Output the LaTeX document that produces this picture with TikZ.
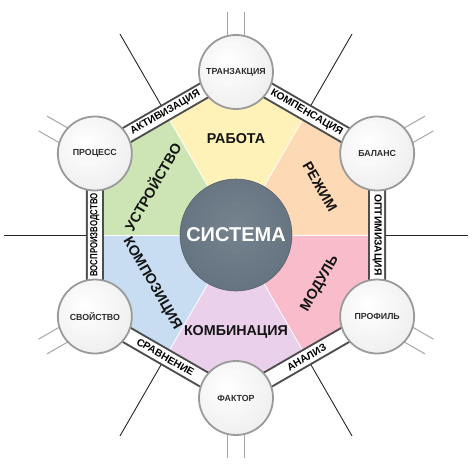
\documentclass[tikz,border=0pt]{standalone}
\usepackage{fontspec}
\usepackage{graphicx}
\setmainfont{Liberation Sans}
\usetikzlibrary{calc}
\definecolor{cyel}{HTML}{FEF2B8}
\definecolor{cora}{HTML}{FDD9B5}
\definecolor{cpink}{HTML}{F8BCCB}
\definecolor{clav}{HTML}{EBD0EC}
\definecolor{cblue}{HTML}{C8DDF2}
\definecolor{cgreen}{HTML}{CDE4B4}
\definecolor{bandgray}{HTML}{4D4D4D}
\definecolor{ringgray}{HTML}{9A9A9A}
\definecolor{txtdark}{HTML}{2E2E2E}
\definecolor{bA}{HTML}{FFFFFF}
\definecolor{bB}{HTML}{F4F4F4}
\definecolor{bC}{HTML}{E2E2E2}
\definecolor{sA}{HTML}{75838F}
\definecolor{sB}{HTML}{64717E}
\definecolor{sC}{HTML}{57646F}
\pgfdeclareradialshading{ballshade}{\pgfpoint{-7bp}{8bp}}{color(0bp)=(bA); color(22bp)=(bB); color(50bp)=(bC); color(70bp)=(bC)}
\pgfdeclareradialshading{sysshade}{\pgfpoint{0bp}{4bp}}{color(0bp)=(sA); color(30bp)=(sB); color(52bp)=(sC); color(70bp)=(sC)}
\tikzset{
  longline/.style={draw=black!85, line width=0.9},
  shortline/.style={draw=black!35, line width=1},
  sector/.style={draw=white, line width=0.8},
  bandtext/.style={font=\bfseries\fontsize{10.3}{10}\selectfont, text=black, inner sep=0},
  sectortext/.style={font=\bfseries\fontsize{14.3}{14}\selectfont, text=black!92, inner sep=0},
  vball/.style={circle, minimum size=74, inner sep=0, draw=ringgray, line width=1.8,
     shading=ballshade,
     font=\bfseries\fontsize{8.8}{9}\selectfont, text=txtdark},
  sysball/.style={circle, minimum size=112, inner sep=0, draw=sC, line width=0.6,
     shading=sysshade,
     font=\bfseries\fontsize{20}{20}\selectfont, text=white}
}
\begin{document}
\begin{tikzpicture}[x=1pt,y=1pt]
\useasboundingbox (-236,-234) rectangle (238,235);
% long radial lines
\foreach \a in {0,60,120,180,240,300}{
  \coordinate (li\a) at (\a:145);
  \coordinate (lo\a) at (\a:232);
  \draw[longline] (li\a) -- (lo\a);
}
% short line pairs at vertices
\foreach \v in {90,30,-30,-90,-150,150}{
  \coordinate (sa\v) at ($(\v:190)+(\v+90:8.5)$);
  \coordinate (sb\v) at ($(\v:223)+(\v+90:8.5)$);
  \coordinate (sc\v) at ($(\v:190)+(\v-90:8.5)$);
  \coordinate (sd\v) at ($(\v:223)+(\v-90:8.5)$);
  \draw[shortline] (sa\v) -- (sb\v);
  \draw[shortline] (sc\v) -- (sd\v);
}
% sectors
\foreach \s/\c in {90/cyel,30/cora,-30/cpink,-90/clav,-150/cblue,150/cgreen}{
  \fill[\c] (0,0) -- (\s-30:141.2) -- (\s:163) -- (\s+30:141.2) -- cycle;
}
\foreach \a in {0,60,120,180,240,300}{
  \draw[sector] (0,0) -- (\a:141.2);
}
% bands
\draw[bandgray, line width=18, line join=miter] (90:163) -- (30:163) -- (-30:163) -- (-90:163) -- (-150:163) -- (150:163) -- cycle;
\draw[white, line width=14, line join=miter] (90:163) -- (30:163) -- (-30:163) -- (-90:163) -- (-150:163) -- (150:163) -- cycle;
% band texts
\node[bandtext, rotate=30] (bt1) at (120:141.2) {АКТИВИЗАЦИЯ};
\node[bandtext, rotate=-30] (bt2) at (60:141.2) {КОМПЕНСАЦИЯ};
\node[bandtext, rotate=-90] (bt3) at (0:141.2) {ОПТИМИЗАЦИЯ};
\node[bandtext, rotate=30] (bt4) at (-60:141.2) {АНАЛИЗ};
\node[bandtext, rotate=-30] (bt5) at (-120:141.2) {СРАВНЕНИЕ};
\node[bandtext, rotate=90] (bt6) at (180:141.2) {\scalebox{0.76}[1]{ВОСПРОИЗВОДСТВО}};
% sector texts
\node[sectortext] (s1) at (90:96) {РАБОТА};
\node[sectortext, rotate=-60] (s2) at (30:97) {РЕЖИМ};
\node[sectortext, rotate=60] (s3) at (-30:97) {МОДУЛЬ};
\node[sectortext] (s4) at (-90:97) {КОМБИНАЦИЯ};
\node[sectortext, rotate=-60] (s5) at (-150:97) {КОМПОЗИЦИЯ};
\node[sectortext, rotate=60] (s6) at (150:97) {УСТРОЙСТВО};
% center
\node[sysball] (sys) at (0,0) {СИСТЕМА};
% vertex balls
\node[vball] (v1) at (90:163) {ТРАНЗАКЦИЯ};
\node[vball] (v2) at (30:163) {БАЛАНС};
\node[vball] (v3) at (-30:163) {ПРОФИЛЬ};
\node[vball] (v4) at (-90:163) {ФАКТОР};
\node[vball] (v5) at (-150:163) {СВОЙСТВО};
\node[vball] (v6) at (150:163) {ПРОЦЕСС};
\end{tikzpicture}
\end{document}
